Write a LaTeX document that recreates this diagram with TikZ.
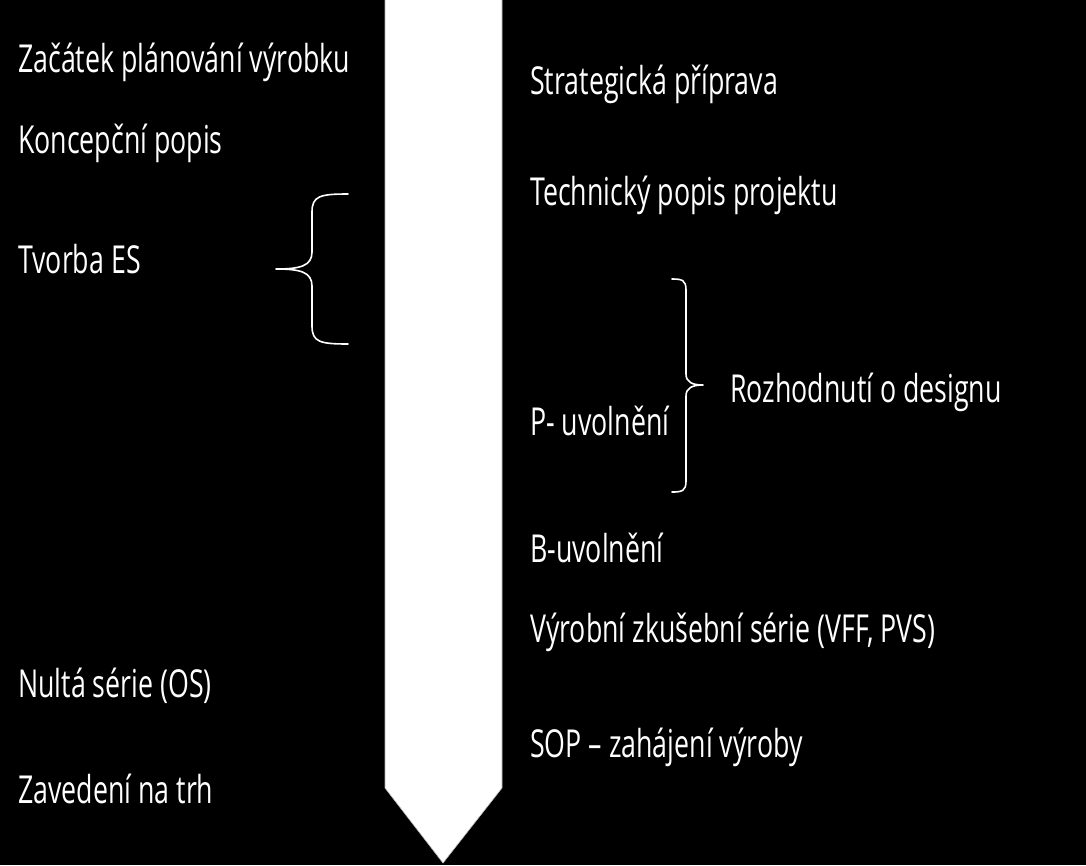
\documentclass[tikz,border=0pt]{standalone}
\usepackage{fontspec}
\setmainfont[FakeStretch=0.695]{Open Sans}
\usepackage{tikz}

\begin{document}
\begin{tikzpicture}[
    x=1pt, y=-1pt,
    label/.style={anchor=base west, inner sep=0pt, text=white, font=\fontsize{38.5}{44}\selectfont},
    brace/.style={draw=white, line width=1.6pt, line cap=round, line join=round},
    timeline/.style={fill=white, draw=gray!60, line width=0.6pt}
]
    % background and frame
    \fill[black] (0,0) rectangle (1086,865);
    \useasboundingbox (0,0) rectangle (1086,865);

    % the time arrow
    \filldraw[timeline] (385,-2) -- (502,-2) -- (502,788) -- (443,863) -- (385,788) -- cycle;

    % left column
    \node[label] (start) at (18,72) {Začátek plánování výrobku};
    \node[label] (concept) at (18,153) {Koncepční popis};
    \node[label] (es) at (18,273) {Tvorba ES};
    \node[label] (zero) at (18,697) {Nultá série (OS)};
    \node[label] (market) at (18,803) {Zavedení na trh};

    % right column
    \node[label] (strategy) at (530,94) {Strategická příprava};
    \node[label] (tech) at (530,205) {Technický popis projektu};
    \node[label] (prel) at (530,435) {P- uvolnění};
    \node[label] (design) at (730,402) {Rozhodnutí o designu};
    \node[label] (brel) at (530,562) {B-uvolnění};
    \node[label] (trial) at (530,642) {Výrobní zkušební série (VFF, PVS)};
    \node[label] (sop) at (530,757) {SOP – zahájení výroby};

    % braces
    \draw[brace] (348,194) .. controls (320,194) and (312,196) .. (312,212)
        -- (312,252) .. controls (312,266) and (300,269) .. (276,269)
        .. controls (300,269) and (312,272) .. (312,286)
        -- (312,326) .. controls (312,342) and (320,344) .. (348,344);
    \draw[brace] (672,279) .. controls (682,279) and (686,280) .. (686,290)
        -- (686,374) .. controls (686,382) and (692,385) .. (703,385)
        .. controls (692,385) and (686,388) .. (686,396)
        -- (686,481) .. controls (686,491) and (682,492) .. (672,492);
\end{tikzpicture}
\end{document}
